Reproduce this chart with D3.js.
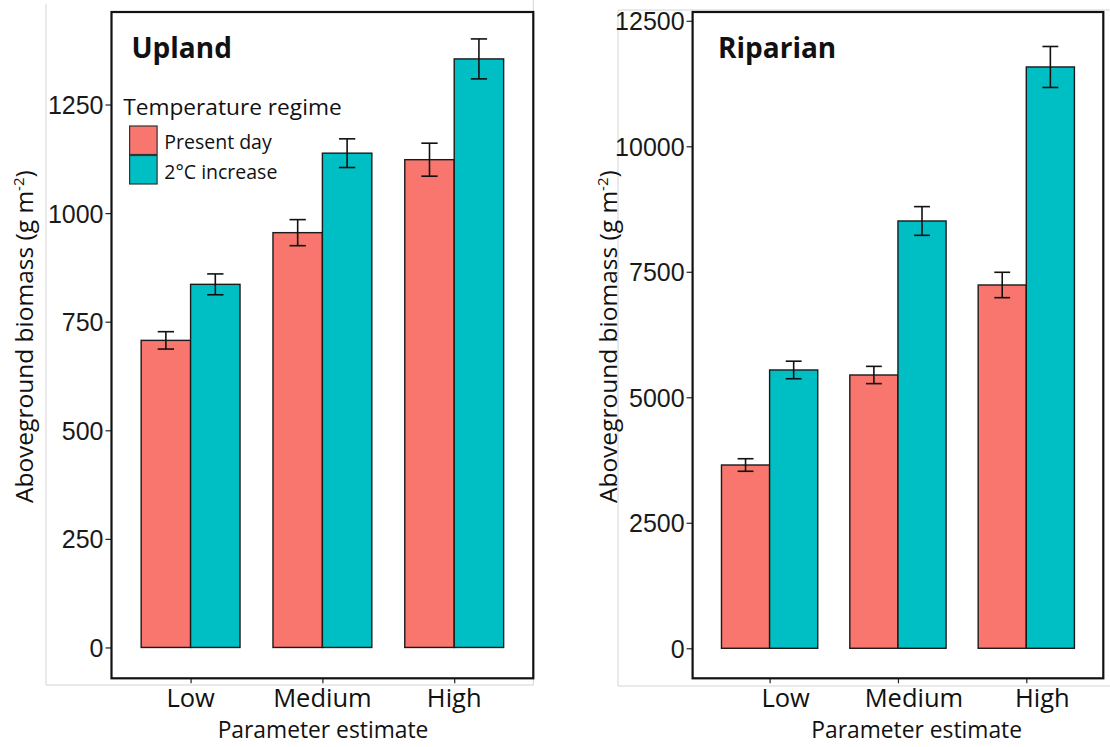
<!DOCTYPE html>
<html>
<head>
<meta charset="utf-8">
<script src="https://cdn.jsdelivr.net/npm/d3@7"></script>
<style>
  body { margin: 0; background: #fff; }
  svg { display: block; }
  .lbl { font-family: "Open Sans", "Noto Sans", sans-serif; fill: #111; }
</style>
</head>
<body>
<svg id="chart" width="1110" height="747"></svg>
<script>
const categories = ["Low", "Medium", "High"];
const seriesNames = ["Present day", "2°C increase"];
const seriesColors = ["#F8766D", "#00BFC4"];

const uplandPresent = [707, 955, 1123];
const uplandPresentErr = [20, 30, 38];
const uplandWarm = [836, 1138, 1355];
const uplandWarmErr = [24, 33, 46];
const uplandTicks = [0, 250, 500, 750, 1000, 1250];

const riparianPresent = [3651, 5444, 7237];
const riparianPresentErr = [125, 172, 253];
const riparianWarm = [5544, 8512, 11580];
const riparianWarmErr = [175, 286, 408];
const riparianTicks = [0, 2500, 5000, 7500, 10000, 12500];

const svg = d3.select("#chart");
svg.append("rect").attr("width", 1110).attr("height", 747).attr("fill", "#fff");

function drawPanel(cfg) {
  const g = svg.append("g");

  // light grey image border
  cfg.border.forEach(b => {
    g.append("line")
      .attr("x1", b[0]).attr("y1", b[1]).attr("x2", b[2]).attr("y2", b[3])
      .attr("stroke", "#d4d4d4").attr("stroke-width", 1);
  });

  const x = d3.scalePoint().domain(categories).range([cfg.x0, cfg.x1]).padding(0.6);
  const unit = x.step();
  const xs = d3.scaleBand().domain(seriesNames).range([-0.375 * unit, 0.375 * unit]);
  const y = d3.scaleLinear().domain(cfg.domain).range([cfg.y1, cfg.y0]);

  const rows = [];
  categories.forEach((c, i) => {
    rows.push({ cat: c, s: seriesNames[0], v: cfg.present[i], e: cfg.presentErr[i] });
    rows.push({ cat: c, s: seriesNames[1], v: cfg.warm[i], e: cfg.warmErr[i] });
  });

  g.selectAll("rect.bar").data(rows).enter().append("rect")
    .attr("class", "bar")
    .attr("x", d => x(d.cat) + xs(d.s))
    .attr("width", xs.bandwidth())
    .attr("y", d => y(d.v))
    .attr("height", d => y(0) - y(d.v))
    .attr("fill", d => seriesColors[seriesNames.indexOf(d.s)])
    .attr("stroke", "#1a1a1a").attr("stroke-width", 1.4);

  const cap = xs.bandwidth() * 0.165;
  const cx = d => x(d.cat) + xs(d.s) + xs.bandwidth() / 2;
  const eb = g.selectAll("g.err").data(rows).enter().append("g")
    .attr("class", "err")
    .attr("stroke", "#111").attr("stroke-width", 1.6);
  eb.append("line")
    .attr("x1", cx).attr("x2", cx)
    .attr("y1", d => y(d.v + d.e)).attr("y2", d => y(d.v - d.e));
  eb.append("line")
    .attr("x1", d => cx(d) - cap).attr("x2", d => cx(d) + cap)
    .attr("y1", d => y(d.v + d.e)).attr("y2", d => y(d.v + d.e));
  eb.append("line")
    .attr("x1", d => cx(d) - cap).attr("x2", d => cx(d) + cap)
    .attr("y1", d => y(d.v - d.e)).attr("y2", d => y(d.v - d.e));

  // y axis
  const ya = g.append("g").attr("transform", `translate(${cfg.x0},0)`)
    .call(d3.axisLeft(y).tickValues(cfg.ticks).tickSize(6).tickPadding(2).tickFormat(d3.format("d")));
  ya.select(".domain").remove();
  ya.selectAll(".tick line").attr("stroke", "#222").attr("stroke-width", 1.2);
  ya.selectAll(".tick text")
    .attr("font-family", "'Liberation Sans', Arial, sans-serif")
    .attr("font-size", 25).attr("fill", "#1a1a1a").attr("dy", "0.36em");

  // x axis ticks (labels placed separately)
  const xa = g.append("g").attr("transform", `translate(0,${cfg.y1})`)
    .call(d3.axisBottom(x).tickSize(5).tickFormat(""));
  xa.select(".domain").remove();
  xa.selectAll(".tick line").attr("stroke", "#222").attr("stroke-width", 1.2);

  // panel border
  g.append("rect")
    .attr("x", cfg.x0).attr("y", cfg.y0)
    .attr("width", cfg.x1 - cfg.x0).attr("height", cfg.y1 - cfg.y0)
    .attr("fill", "none").attr("stroke", "#111").attr("stroke-width", 2.2);

  g.selectAll("text.xl").data(categories).enter().append("text")
    .attr("class", "lbl xl")
    .attr("x", d => x(d) + cfg.labelShift).attr("y", 707)
    .attr("text-anchor", "middle").attr("font-size", 25.5)
    .text(d => d);

  g.append("text").attr("class", "lbl")
    .attr("x", cfg.xTitleX).attr("y", 738)
    .attr("text-anchor", "middle").attr("font-size", 22.8)
    .text("Parameter estimate");

  const yt = g.append("text").attr("class", "lbl")
    .attr("transform", `translate(${cfg.yTitleX},336.7) rotate(-90)`)
    .attr("text-anchor", "middle").attr("font-size", 24.5);
  yt.append("tspan").text("Aboveground biomass (g m");
  yt.append("tspan").attr("font-size", 15).attr("dy", -9).text("-2");
  yt.append("tspan").attr("dy", 9).text(")");

  g.append("text").attr("class", "lbl")
    .attr("x", cfg.titleX).attr("y", 58)
    .attr("font-size", 28).attr("font-weight", "bold").attr("fill", "#000")
    .text(cfg.title);

  return g;
}

const left = drawPanel({
  title: "Upland", titleX: 131.4,
  x0: 111.5, x1: 533.3, y0: 12, y1: 678.3,
  domain: [-71, 1463], ticks: uplandTicks,
  present: uplandPresent, presentErr: uplandPresentErr,
  warm: uplandWarm, warmErr: uplandWarmErr,
  labelShift: 0, xTitleX: 323, yTitleX: 33,
  border: [[46, 4, 46, 685], [46, 685, 533.3, 685], [533.3, 0, 533.3, 685]]
});

drawPanel({
  title: "Riparian", titleX: 718,
  x0: 692.6, x1: 1103.3, y0: 12, y1: 678.3,
  domain: [-598, 12675], ticks: riparianTicks,
  present: riparianPresent, presentErr: riparianPresentErr,
  warm: riparianWarm, warmErr: riparianWarmErr,
  labelShift: 16, xTitleX: 916.7, yTitleX: 617,
  border: [[618, 10, 618, 686], [618, 686, 1110, 686], [618, 10, 1110, 10]]
});

// legend inside the Upland panel
const legend = left.append("g");
legend.append("text").attr("class", "lbl")
  .attr("x", 123.2).attr("y", 115).attr("font-size", 22.7)
  .text("Temperature regime");
const keys = legend.selectAll("g.key").data(seriesNames).enter().append("g")
  .attr("class", "key")
  .attr("transform", (d, i) => `translate(129.6,${126 + i * 29.5})`);
keys.append("rect")
  .attr("width", 27.5).attr("height", 28.5)
  .attr("fill", (d, i) => seriesColors[i])
  .attr("stroke", "#333").attr("stroke-width", 1.2);
keys.append("text").attr("class", "lbl")
  .attr("x", 34.7).attr("y", (d, i) => 23.3 - i * 0.3)
  .attr("font-size", 19.5)
  .text(d => d);
</script>
</body>
</html>
